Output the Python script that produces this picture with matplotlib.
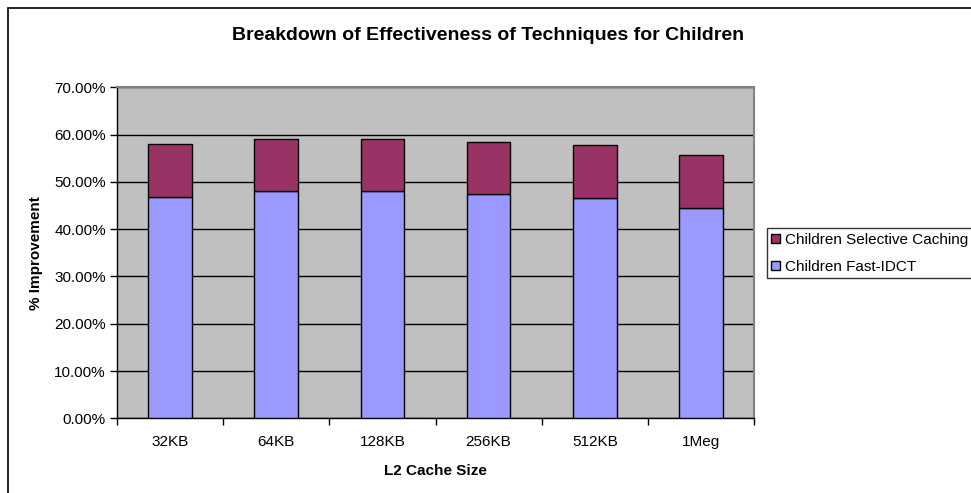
import matplotlib
matplotlib.use("Agg")
import matplotlib.pyplot as plt
from matplotlib.patches import Rectangle
from matplotlib.ticker import FixedLocator, FuncFormatter
import numpy as np

plt.rcParams['font.family'] = ['Liberation Sans', 'DejaVu Sans']

categories = ["32KB", "64KB", "128KB", "256KB", "512KB", "1Meg"]
fast_idct = [46.8, 48.1, 48.1, 47.4, 46.5, 44.5]
selective_caching = [11.3, 10.9, 10.9, 11.1, 11.3, 11.2]
series_names = ["Children Selective Caching", "Children Fast-IDCT"]
y_ticks = [0, 10, 20, 30, 40, 50, 60, 70]

W, H = 971, 493
fig = plt.figure(figsize=(W / 100, H / 100), dpi=100)

# outer chart border
fig.patches.append(Rectangle((8 / W, -0.01), 1.02, (H - 8) / H + 0.01,
                             transform=fig.transFigure, fill=False,
                             edgecolor="black", linewidth=1.2))

ax = fig.add_axes([117 / W, 1 - 418.3 / H, (754 - 117) / W, (418.3 - 87.3) / H])
ax.set_facecolor("#C0C0C0")

x = np.arange(len(categories))
bw = 0.41
ax.bar(x, fast_idct, bw, color="#9999FF", edgecolor="black", linewidth=1,
       label=series_names[1], zorder=3)
ax.bar(x, selective_caching, bw, bottom=fast_idct, color="#993366",
       edgecolor="black", linewidth=1, label=series_names[0], zorder=3)

ax.set_xlim(-0.5, len(categories) - 0.5)
ax.set_ylim(0, 70)
ax.yaxis.set_major_locator(FixedLocator(y_ticks))
ax.yaxis.set_major_formatter(FuncFormatter(lambda v, p: f"{v:.2f}%"))
ax.grid(axis="y", color="black", linewidth=1, zorder=1)

ax.set_xticks(x)
ax.set_xticklabels(categories)
ax.set_xticks(np.arange(len(categories) + 1) - 0.5, minor=True)
ax.tick_params(axis="x", which="major", length=0, pad=12, labelsize=11)
ax.tick_params(axis="x", which="minor", length=5, width=1, direction="out")
ax.tick_params(axis="y", length=5, width=1, direction="out", pad=3, labelsize=11)

for s in ["top", "right"]:
    ax.spines[s].set_color("#808080")
    ax.spines[s].set_linewidth(1.5)
for s in ["left", "bottom"]:
    ax.spines[s].set_color("black")
    ax.spines[s].set_linewidth(1)

ax.set_ylabel("% Improvement", fontsize=11, fontweight="bold", labelpad=8)
ax.set_xlabel("L2 Cache Size", fontsize=11, fontweight="bold", labelpad=11)

fig.text(488 / W, 1 - 35 / H, "Breakdown of Effectiveness of Techniques for Children",
         ha="center", va="center", fontsize=14, fontweight="bold")

handles, labels = ax.get_legend_handles_labels()
leg = fig.legend(handles[::-1], labels[::-1], loc="upper left",
                 bbox_to_anchor=(766.5 / W, 1 - 228.3 / H),
                 frameon=True, fancybox=False, fontsize=11,
                 handlelength=0.6, handleheight=0.6, handletextpad=0.3,
                 borderpad=0.3, labelspacing=0.85, borderaxespad=0)
leg.get_frame().set_edgecolor("black")
leg.get_frame().set_linewidth(1)

fig.savefig("out.png", dpi=100)
